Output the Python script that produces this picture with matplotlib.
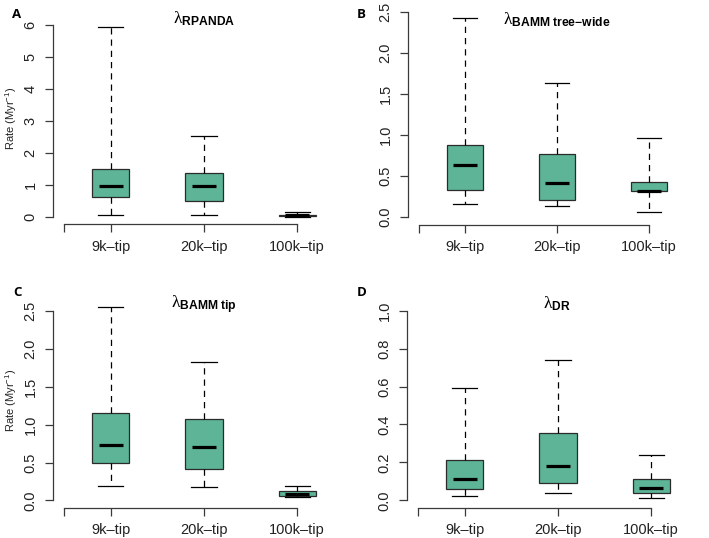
import matplotlib
matplotlib.use('Agg')
import matplotlib.pyplot as plt

plt.rcParams['font.family'] = ['Liberation Sans', 'DejaVu Sans']
plt.rcParams['mathtext.fontset'] = 'custom'
plt.rcParams['mathtext.rm'] = 'Liberation Serif'
plt.rcParams['mathtext.it'] = 'Liberation Serif:italic'
plt.rcParams['mathtext.bf'] = 'Liberation Sans:bold'

groups = ['9k\u2013tip', '20k\u2013tip', '100k\u2013tip']

# low whisker, Q1, median, Q3, high whisker for each group
rpanda = [[0.07, 0.62, 0.95, 1.50, 5.93],
          [0.07, 0.50, 0.95, 1.37, 2.54],
          [0.00, 0.02, 0.04, 0.07, 0.16]]
bamm_tree = [[0.15, 0.33, 0.63, 0.88, 2.43],
             [0.13, 0.20, 0.41, 0.76, 1.63],
             [0.06, 0.31, 0.32, 0.42, 0.96]]
bamm_tip = [[0.19, 0.50, 0.73, 1.15, 2.56],
            [0.18, 0.41, 0.71, 1.08, 1.83],
            [0.05, 0.06, 0.08, 0.13, 0.19]]
dr = [[0.023, 0.06, 0.11, 0.21, 0.59],
      [0.037, 0.093, 0.18, 0.355, 0.74],
      [0.012, 0.037, 0.065, 0.11, 0.237]]

ytop = [6, 2.5, 2.5, 1.0]
yticks_a = [0, 1, 2, 3, 4, 5, 6]
yticks_bc = [0.0, 0.5, 1.0, 1.5, 2.0, 2.5]
yticks_d = [0.0, 0.2, 0.4, 0.6, 0.8, 1.0]

titles = [r'$\mathrm{\lambda}_{\mathbf{RPANDA}}$',
          r'$\mathrm{\lambda}_{\mathbf{BAMM\ tree{-}wide}}$',
          r'$\mathrm{\lambda}_{\mathbf{BAMM\ tip}}$',
          r'$\mathrm{\lambda}_{\mathbf{DR}}$']
letters = ['A', 'B', 'C', 'D']

W, H = 709, 538
box_col = '#5db497'
axis_col = '#3a3a3a'

fig = plt.figure(figsize=(W / 100, H / 100), dpi=100)

# plot regions in pixels: left, right, top, bottom
rects = [(53, 355, 17.6, 224.4),
         (408, 706, 3.8, 224.9),
         (53, 355, 303.7, 507.9),
         (407, 709, 303.1, 507.9)]
title_pos = [(204, 24), (557, 24.5), (204, 308.5), (557, 308.5)]
letter_pos = [(17, 15), (361, 15), (17, 292), (362, 292)]

panels = [rpanda, bamm_tree, bamm_tip, dr]
tick_sets = [yticks_a, yticks_bc, yticks_bc, yticks_d]
tick_fmt = ['{:.0f}', '{:.1f}', '{:.1f}', '{:.1f}']

pos = [1, 2, 3]
for i, data in enumerate(panels):
    l, r, t, b = rects[i]
    ax = fig.add_axes([l / W, 1 - b / H, (r - l) / W, (b - t) / H])
    stats = [dict(whislo=d[0], q1=d[1], med=d[2], q3=d[3], whishi=d[4]) for d in data]
    ax.bxp(stats, positions=pos, widths=0.4, capwidths=0.27, showfliers=False,
           patch_artist=True,
           boxprops=dict(facecolor=box_col, edgecolor='#2b2b2b', linewidth=0.9),
           whiskerprops=dict(color='black', linewidth=0.9, linestyle=(0, (5, 4))),
           capprops=dict(color='black', linewidth=0.9),
           medianprops=dict(visible=False))
    ax.hlines([d[2] for d in data], [p - 0.13 for p in pos], [p + 0.13 for p in pos],
              colors='black', linewidth=2.3, zorder=5)

    pad = 0.04 * ytop[i]
    ax.set_ylim(-pad, ytop[i] + pad)
    ax.set_xlim(0.38, 3.62)

    for s in ['top', 'right']:
        ax.spines[s].set_visible(False)
    ax.spines['left'].set_bounds(0, ytop[i])
    ax.spines['bottom'].set_bounds(0.5, 3)
    for s in ['left', 'bottom']:
        ax.spines[s].set_color(axis_col)
        ax.spines[s].set_linewidth(0.9)

    ax.set_xticks([0.5] + pos, [''] + groups)
    ax.set_yticks(tick_sets[i], [tick_fmt[i].format(v) for v in tick_sets[i]],
                  rotation=90, va='center')
    ax.tick_params(axis='both', direction='out', length=6, width=0.9,
                   color=axis_col, labelsize=10.5, pad=5, labelcolor='#222222')
    ax.patch.set_visible(False)

    tx, ty = title_pos[i]
    fig.text(tx / W, 1 - ty / H, titles[i], ha='center', va='baseline', fontsize=12.5)
    lx, ly = letter_pos[i]
    fig.text(lx / W, 1 - ly / H, letters[i], ha='center', va='center',
             fontsize=9.5, fontweight='bold', family=['Open Sans', 'DejaVu Sans'])

for yc in [118, 400]:
    fig.text(11 / W, 1 - yc / H, r'Rate (Myr$^{\mathregular{-1}}$)', rotation=90,
             ha='center', va='center', fontsize=8, color='#222222')

fig.savefig('out.png', dpi=100)
